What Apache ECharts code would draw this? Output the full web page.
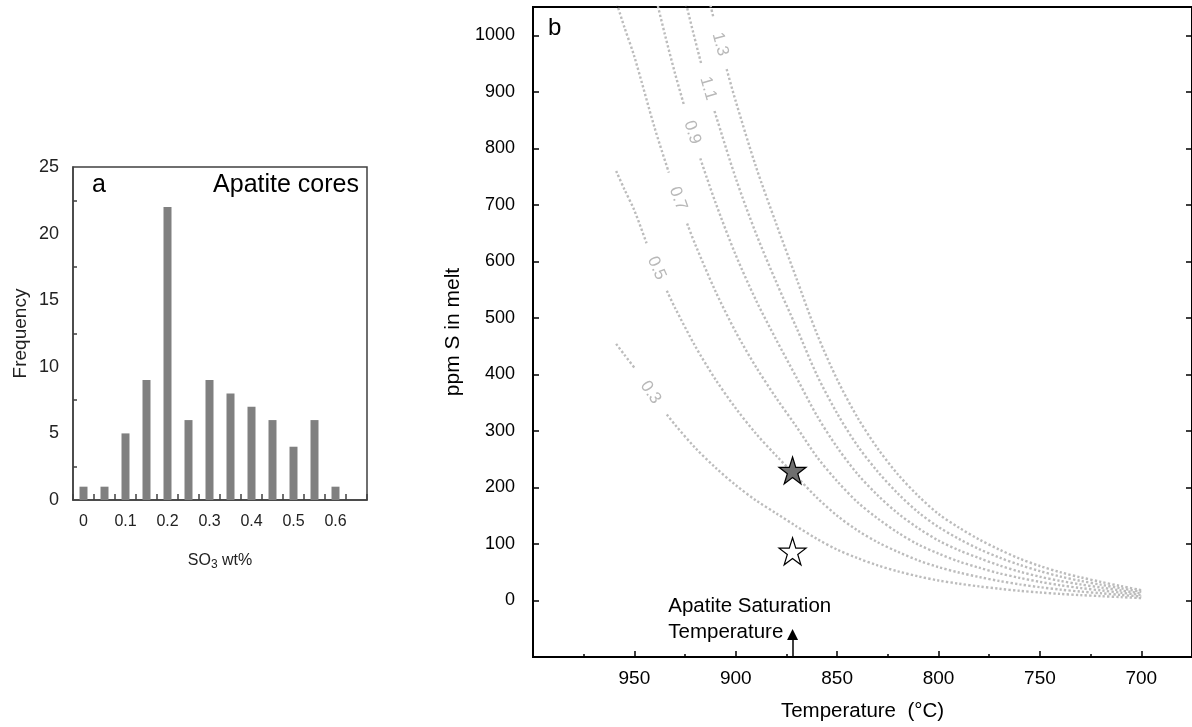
<!DOCTYPE html>
<html><head><meta charset="utf-8">
<script src="https://cdn.jsdelivr.net/npm/echarts@6/dist/echarts.min.js"></script>
<style>html,body{margin:0;padding:0;background:#fff}#c{width:1192px;height:727px}</style>
</head><body><div id="c"></div>
<script>
// ---------- Panel a: histogram ----------
const histCategories = ['0','0.05','0.1','0.15','0.2','0.25','0.3','0.35','0.4','0.45','0.5','0.55','0.6','0.65'];
const histCounts = [1,1,5,9,22,6,9,8,7,6,4,6,1];

// ---------- Panel b: isopleths (apatite SO3 wt%) ----------
const isoNames = ['0.3','0.5','0.7','0.9','1.1','1.3'];
// each curve drawn in two pieces, broken where its label sits: [T (°C), ppm S]
const iso03Upper = [[959,454],[955,435],[950,412]];
const iso03Lower = [[934,329],[930,311],[920,270],[910,235],[900,204],[890,177],[880,154],[870,131],[860,109],[850,90],[840,75],[830,62],[820,51.5],[810,42.6],[800,35.4],[790,29.7],[780,24.9],[770,20.7],[760,17.1],[750,14.1],[740,11.6],[730,9.5],[720,7.7],[710,5.9],[700,4.2]];
const iso05Upper = [[959,760],[955,728],[950,690],[944,632]];
const iso05Lower = [[934,548],[930,518],[920,450],[910,391],[900,340],[890,295],[880,256],[870,219],[860,182],[850,150],[840,124],[830,103],[820,86],[810,71],[800,59],[790,49.5],[780,41.5],[770,34.5],[760,28.5],[750,23.5],[740,19.3],[730,15.8],[720,12.8],[710,9.8],[700,7]];
const iso07Upper = [[960,1071],[955,1015],[950,962],[940,836],[933,757]];
const iso07Lower = [[924,667],[920,630],[910,547],[900,475],[890,413],[880,358],[870,307],[860,254],[850,211],[840,174],[830,145],[820,120],[810,99],[800,83],[790,69],[780,58],[770,48],[760,40],[750,33],[740,27],[730,22],[720,17.9],[710,13.7],[700,9.8]];
const iso09Upper = [[940,1075],[935,1002],[930,933],[925.5,876]];
const iso09Lower = [[917.5,782],[910,704],[900,611],[890,531],[880,461],[870,394],[860,327],[850,271],[840,224],[830,186],[820,154],[810,128],[800,106],[790,89],[780,75],[770,62],[760,51],[750,42],[740,34.7],[730,28.4],[720,23],[710,17.6],[700,12.6]];
const iso11Upper = [[925,1063],[921,1005],[917,949]];
const iso11Lower = [[910.5,866],[910,860],[900,747],[890,649],[880,563],[870,482],[860,399],[850,331],[840,274],[830,228],[820,189],[810,156],[800,130],[790,109],[780,91],[770,76],[760,63],[750,52],[740,42.4],[730,34.7],[720,28],[710,21.5],[700,15.4]];
const iso13Upper = [[913,1061],[911,1031]];
const iso13Lower = [[904.5,940],[900,883],[890,767],[880,666],[870,569],[860,472],[850,391],[840,324],[830,269],[820,223],[810,185],[800,153],[790,129],[780,108],[770,90],[760,74],[750,61],[740,50],[730,41],[720,33],[710,25.4],[700,18.2]];
const isoLabelT = [942, 939, 928.5, 921.5, 913.7, 907.7];
const isoLabelS = [368, 588, 711, 828, 906, 984];

const satT = 872;           // apatite saturation temperature
const starFilledS = 230;    // ppm S (filled star)
const starOpenS = 87;       // ppm S (open star)
const tempTicks = [950, 900, 850, 800, 750, 700];
const tempMinorTicks = [975, 925, 875, 825, 775, 725];

// ---------- styling ----------
const FONT = 'Liberation Sans, Arial, sans-serif';
const isoAngles = [-56, -66, -70, -73, -74, -75];
const STAR = 'path://M50 2 L61.8 37.6 L99 37.6 L68.9 59.5 L80.4 95 L50 73 L19.6 95 L31.1 59.5 L1 37.6 L38.2 37.6 Z';
const dotStyle = {color:'#bcbcbc', width:2.4, type:[2.3, 2.2]};

const upper = [iso03Upper, iso05Upper, iso07Upper, iso09Upper, iso11Upper, iso13Upper];
const lower = [iso03Lower, iso05Lower, iso07Lower, iso09Lower, iso11Lower, iso13Lower];

const series = [{
  type:'bar', xAxisIndex:0, yAxisIndex:0, data:histCounts, barWidth:8,
  itemStyle:{color:'#808080'}, silent:true
}];
isoNames.forEach((n,i)=>{
  [upper[i], lower[i]].forEach(seg=>{
    series.push({type:'line', name:'SO3 '+n, xAxisIndex:1, yAxisIndex:1, data:seg,
      smooth:0.3, showSymbol:false, symbol:'none', lineStyle:dotStyle, silent:true, z:2});
  });
});
series.push({
  type:'scatter', xAxisIndex:1, yAxisIndex:1, symbolSize:0, silent:true, z:3,
  itemStyle:{opacity:1},
  data: isoNames.map((n,i)=>({name:n, value:[isoLabelT[i], isoLabelS[i]],
      label:{rotate:isoAngles[i]}})),
  label:{show:true, position:'inside', formatter:'{b}', color:'#b8b8b8', fontSize:17, fontFamily:FONT}
});
series.push({
  type:'scatter', xAxisIndex:1, yAxisIndex:1, symbol:STAR, symbolSize:27, silent:true, z:5,
  itemStyle:{opacity:1},
  data:[
    {value:[satT, starFilledS], itemStyle:{color:'#6e6e6e', borderColor:'#000', borderWidth:1.2}},
    {value:[satT, starOpenS], itemStyle:{color:'#fff', borderColor:'#000', borderWidth:1.2}}
  ]
});
series.push({
  type:'scatter', xAxisIndex:1, yAxisIndex:1, symbolSize:0, silent:true, z:5,
  itemStyle:{opacity:1},
  data:[{name:'Apatite Saturation\nTemperature', value:[933.3, -33]}],
  label:{show:true, position:'right', distance:0, formatter:'{b}', color:'#000', fontSize:20.5,
         lineHeight:26, fontFamily:FONT, align:'left', verticalAlign:'middle'},
  markLine:{silent:true, symbol:['none','triangle'], symbolSize:[11,11],
    lineStyle:{color:'#000', width:1.5, type:'solid'}, label:{show:false},
    data:[[{coord:[satT,-100]},{coord:[satT,-60]}]]}
});

const option = {
  animation:false,
  backgroundColor:'#fff',
  textStyle:{fontFamily:FONT},
  grid:[
    {left:73, top:167, width:294, height:333, show:true, borderColor:'#404040', borderWidth:1.5, backgroundColor:'transparent'},
    {left:533, top:7, width:663, height:652, show:true, borderColor:'#000', borderWidth:2, backgroundColor:'transparent'}
  ],
  graphic:[
    {type:'text', left:92, top:173, style:{text:'a', font:'25px '+FONT, fill:'#000'}},
    {type:'text', right:833, top:173, style:{text:'Apatite cores', font:'25px '+FONT, fill:'#000'}},
    {type:'text', left:548, top:16, style:{text:'b', font:'24px '+FONT, fill:'#000'}}
  ],
  xAxis:[
    {type:'category', gridIndex:0, data:histCategories,
     axisLine:{lineStyle:{color:'#404040', width:1.5}},
     axisTick:{show:true, inside:true, interval:0, length:6, lineStyle:{color:'#404040', width:1.5}},
     axisLabel:{interval:1, fontSize:16, color:'#222', margin:14},
     name:'SO{s|3} wt%', nameLocation:'middle', nameGap:50,
     nameTextStyle:{fontSize:16, color:'#222', rich:{s:{fontSize:12, color:'#222', padding:[9,0,0,0]}}}
    },
    {type:'value', gridIndex:1, inverse:true, min:675, max:1000,
     axisLine:{onZero:false, lineStyle:{color:'#000', width:2}},
     axisTick:{show:true, inside:true, length:6, customValues:tempTicks, lineStyle:{color:'#000', width:1.5}},
     axisLabel:{customValues:tempTicks, fontSize:19, color:'#000', margin:12},
     splitLine:{show:false},
     name:'Temperature  (°C)', nameLocation:'middle', nameGap:44, nameTextStyle:{fontSize:20.5, color:'#000'}
    },
    {type:'value', gridIndex:1, inverse:true, min:675, max:1000, position:'bottom',
     axisLine:{show:false, onZero:false},
     axisTick:{show:true, inside:true, length:3, customValues:tempMinorTicks, lineStyle:{color:'#000', width:1.5}},
     axisLabel:{show:false}, splitLine:{show:false}
    }
  ],
  yAxis:[
    {type:'value', gridIndex:0, min:0, max:25, interval:5,
     axisLine:{show:true, lineStyle:{color:'#404040', width:1.5}},
     axisTick:{show:false, inside:true},
     minorTick:{show:true, splitNumber:2, length:4, lineStyle:{color:'#404040', width:1.5}},
     axisLabel:{fontSize:18, color:'#222', margin:14},
     splitLine:{show:false},
     name:'Frequency', nameLocation:'middle', nameGap:43, nameTextStyle:{fontSize:19, color:'#222'}
    },
    {type:'value', gridIndex:1, min:-100, max:1050, interval:100,
     axisLine:{show:true, onZero:false, lineStyle:{color:'#000', width:2}},
     axisTick:{show:true, inside:true, length:6, lineStyle:{color:'#000', width:1.5}},
     axisLabel:{fontSize:18, color:'#000', margin:18, formatter:v=> (v < 0 || v > 1000) ? '' : String(v)},
     splitLine:{show:false},
     name:'ppm S in melt', nameLocation:'middle', nameGap:62, nameTextStyle:{fontSize:21, color:'#000'}
    },
    {type:'value', gridIndex:1, min:-100, max:1050, interval:100, position:'right',
     axisLine:{show:true, onZero:false, lineStyle:{color:'#000', width:2}},
     axisTick:{show:true, inside:true, length:6, lineStyle:{color:'#000', width:1.5}},
     axisLabel:{show:false}, splitLine:{show:false}
    }
  ],
  series: series
};
const chart = echarts.init(document.getElementById('c'), null, {renderer:'canvas'});
chart.setOption(option);
</script></body></html>
